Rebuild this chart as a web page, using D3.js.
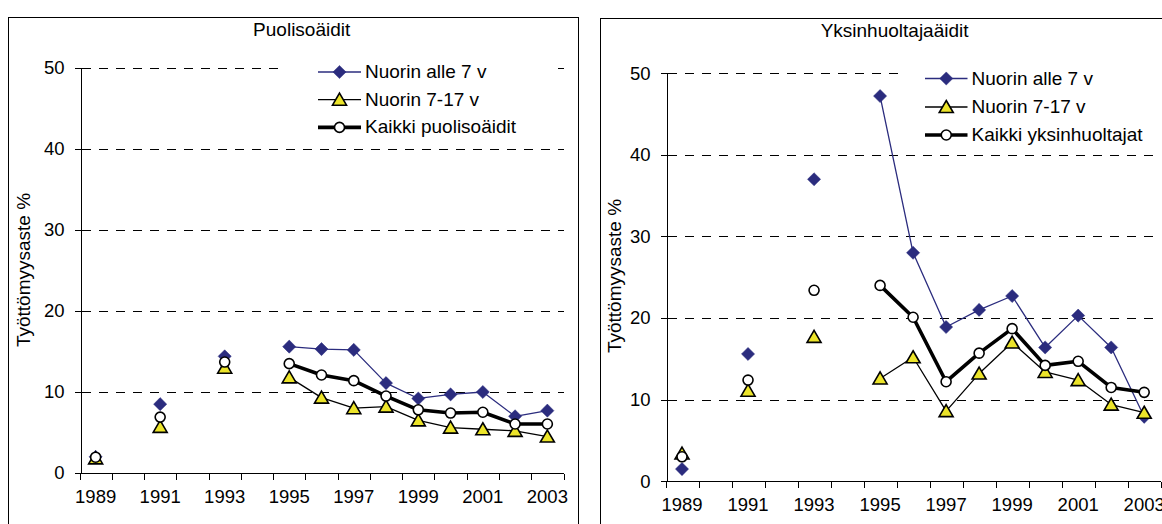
<!DOCTYPE html>
<html><head><meta charset="utf-8">
<script src="https://cdn.jsdelivr.net/npm/d3@7"></script>
<style>
html,body{margin:0;padding:0;background:#fff;}
svg{display:block;font-family:"Liberation Sans",Arial,sans-serif;}
</style></head>
<body>
<svg id="chart" width="1162" height="524"></svg>
<script>
const years = ["1989","1990","1991","1992","1993","1994","1995","1996","1997","1998","1999","2000","2001","2002","2003"];
const yTicks = [0,10,20,30,40,50];
const xTickLabels = ["1989","1991","1993","1995","1997","1999","2001","2003"];

// Puolisoäidit
const puolisoTitle = "Puolisoäidit";
const puolisoAlle7 = [2.0, null, 8.5, null, 14.4, null, 15.6, 15.3, 15.2, 11.1, 9.2, 9.7, 10.0, 7.0, 7.7];
const puoliso717   = [1.8, null, 5.7, null, 13.0, null, 11.8, 9.3, 8.0, 8.2, 6.5, 5.6, 5.4, 5.2, 4.5];
const puolisoKaikki= [1.95,null, 6.9, null, 13.7, null, 13.5, 12.1, 11.4, 9.5, 7.8, 7.4, 7.5, 6.05, 6.05];
const puolisoLegend = ["Nuorin alle 7 v","Nuorin 7-17 v","Kaikki puolisoäidit"];

// Yksinhuoltajaäidit
const yksinTitle = "Yksinhuoltajaäidit";
const yksinAlle7 = [1.5, null, 15.6, null, 37.0, null, 47.2, 28.0, 18.9, 21.0, 22.7, 16.4, 20.3, 16.4, 7.9];
const yksin717   = [3.4, null, 11.1, null, 17.7, null, 12.6, 15.2, 8.6, 13.2, 17.0, 13.4, 12.4, 9.4, 8.4];
const yksinKaikki= [3.0, null, 12.4, null, 23.4, null, 24.0, 20.1, 12.2, 15.7, 18.7, 14.2, 14.7, 11.5, 10.9];
const yksinLegend = ["Nuorin alle 7 v","Nuorin 7-17 v","Kaikki yksinhuoltajat"];

const yTitle = "Työttömyysaste %";

const svg = d3.select("#chart");
const NAVY = "#2b2c7e", YEL = "#ece42a";

function panel(cfg) {
  const g = svg.append("g");
  // frame
  g.append("rect").attr("x", cfg.frame[0]).attr("y", cfg.frame[1])
    .attr("width", cfg.frame[2]).attr("height", 600)
    .attr("fill", "#fff").attr("stroke", "#000").attr("stroke-width", 1)
    .attr("shape-rendering", "crispEdges");

  const x = d3.scaleBand().domain(years).range([cfg.x0, cfg.x1]).padding(0);
  const y = d3.scaleLinear().domain([0, 50]).range([cfg.y0, cfg.y50]);
  const cx = d => x(d) + x.bandwidth() / 2;
  const yc = v => Math.round(y(v)) + 0.5;

  // gridlines
  g.append("g").selectAll("line").data(yTicks.filter(t => t > 0)).join("line")
    .attr("x1", cfg.x0 + 2).attr("x2", cfg.x1)
    .attr("y1", d => yc(d)).attr("y2", d => yc(d))
    .attr("stroke", "#000").attr("stroke-width", 1).attr("stroke-dasharray", "9,8")
    .attr("shape-rendering", "crispEdges");

  // y axis
  const ya = g.append("g").attr("transform", `translate(${Math.round(cfg.x0) + 0.5},0)`)
    .call(d3.axisLeft(y).tickValues(yTicks).tickSize(6).tickPadding(10).tickFormat(d3.format("d")));
  ya.attr("shape-rendering", "crispEdges");
  ya.select(".domain").attr("stroke", "#000");
  ya.selectAll(".tick line").attr("stroke", "#000");
  ya.selectAll("text").attr("font-size", 18.5).attr("fill", "#000").attr("font-family", "Liberation Sans, Arial, sans-serif");

  // x axis
  const xa = g.append("g").attr("transform", `translate(0,${cfg.y0})`)
    .call(d3.axisBottom(x).tickValues(xTickLabels).tickSize(0).tickPadding(17));
  xa.select(".domain").remove();
  xa.selectAll("text").attr("font-size", 18.5).attr("fill", "#000").attr("font-family", "Liberation Sans, Arial, sans-serif");
  const ay = Math.round(cfg.y0) + 0.5;
  g.append("line").attr("x1", cfg.x0).attr("x2", cfg.x1).attr("y1", ay).attr("y2", ay)
    .attr("stroke", "#000").attr("shape-rendering", "crispEdges");
  const edges = years.map(d => x(d)).concat([cfg.x1]);
  g.append("g").selectAll("line").data(edges).join("line")
    .attr("x1", d => Math.round(d) + 0.5).attr("x2", d => Math.round(d) + 0.5).attr("y1", ay).attr("y2", ay + 6)
    .attr("stroke", "#000").attr("shape-rendering", "crispEdges");

  // titles
  g.append("text").attr("x", cfg.titleX).attr("y", cfg.titleY).attr("text-anchor", "middle")
    .attr("font-size", 19).text(cfg.title);
  g.append("text").attr("transform", `translate(${cfg.ytX},${cfg.ytY}) rotate(-90)`)
    .attr("text-anchor", "middle").attr("font-size", 19).text(yTitle);

  // legend background
  g.append("rect").attr("x", cfg.legBox[0]).attr("y", cfg.legBox[1])
    .attr("width", cfg.legBox[2]).attr("height", cfg.legBox[3]).attr("fill", "#fff");

  const series = [
    {vals: cfg.s1, color: NAVY, width: 1.3, marker: "diamond"},
    {vals: cfg.s2, color: "#000", width: 1.3, marker: "triangle"},
    {vals: cfg.s3, color: "#000", width: 3.6, marker: "circle"}
  ];
  const line = d3.line().defined(d => d.v != null).x(d => cx(d.k)).y(d => y(d.v));

  function marker(sel, type) {
    if (type === "diamond") {
      sel.append("path").attr("d", d3.symbol(d3.symbolDiamond2 || d3.symbolDiamond, 110)())
        .attr("fill", NAVY).attr("stroke", NAVY).attr("stroke-width", 0.5);
    } else if (type === "triangle") {
      sel.append("path").attr("d", "M0,-6.5L7,5.5L-7,5.5Z")
        .attr("fill", YEL).attr("stroke", "#000").attr("stroke-width", 1.6).attr("stroke-linejoin", "miter");
    } else {
      sel.append("circle").attr("r", 5).attr("fill", "#fff").attr("stroke", "#000").attr("stroke-width", 1.6);
    }
  }

  series.forEach(s => {
    const data = years.map((k, i) => ({k, v: s.vals[i]}));
    g.append("path").datum(data).attr("d", line).attr("fill", "none")
      .attr("stroke", s.color).attr("stroke-width", s.width).attr("stroke-linejoin", "round");
    g.append("g").selectAll("g").data(data.filter(d => d.v != null)).join("g")
      .attr("transform", d => `translate(${cx(d.k)},${y(d.v)})`)
      .each(function() { marker(d3.select(this), s.marker); });
  });

  // legend
  cfg.legend.forEach((lab, i) => {
    const s = series[i];
    const ly = cfg.legRows[i];
    g.append("line").attr("x1", cfg.legX0).attr("x2", cfg.legX1).attr("y1", ly).attr("y2", ly)
      .attr("stroke", s.color).attr("stroke-width", s.width);
    const mg = g.append("g").attr("transform", `translate(${(cfg.legX0 + cfg.legX1) / 2},${ly})`);
    marker(mg, s.marker);
    g.append("text").attr("x", cfg.legText).attr("y", ly + 6).attr("font-size", 19).text(lab);
  });
}

panel({
  frame: [8.5, 17.5, 569.5],
  x0: 79.5, x1: 563.5, y0: 473, y50: 68,
  title: puolisoTitle, titleX: 301.7, titleY: 35.7,
  ytX: 30, ytY: 270,
  legBox: [285, 55, 270, 85],
  legX0: 318, legX1: 361, legText: 365, legRows: [72, 99.7, 127.4],
  legend: puolisoLegend,
  s1: puolisoAlle7, s2: puoliso717, s3: puolisoKaikki
});

panel({
  frame: [600.5, 18.5, 600],
  x0: 665.5, x1: 1160.7, y0: 481.3, y50: 73.2,
  title: yksinTitle, titleX: 894.6, titleY: 37,
  ytX: 621, ytY: 276,
  legBox: [904, 60, 253, 88],
  legX0: 925, legX1: 967.5, legText: 971.5, legRows: [78.5, 107, 135],
  legend: yksinLegend,
  s1: yksinAlle7, s2: yksin717, s3: yksinKaikki
});
</script>
</body></html>
